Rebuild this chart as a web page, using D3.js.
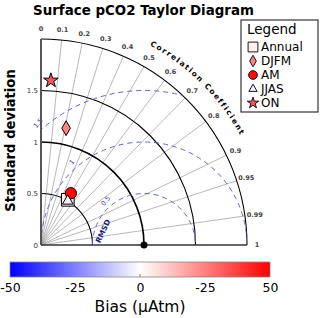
<!DOCTYPE html>
<html>
<head>
<meta charset="utf-8">
<script src="https://cdn.jsdelivr.net/npm/d3@7"></script>
<style>
body{margin:0;background:#fff;}
text{font-family:"DejaVu Sans",sans-serif;}
</style>
</head>
<body>
<div id="chart"></div>
<script>
// data
const seasons = ["Annual", "DJFM", "AM", "JJAS", "ON"];
const shapes = ["square", "diamond", "circle", "triangle", "star"];
const stdDev = [0.51, 1.16, 0.58, 0.50, 1.60];
const corr = [0.51, 0.21, 0.50, 0.52, 0.06];
const bias = [3, 24, 48, -3, 33];

const corrTicks = [0, 0.1, 0.2, 0.3, 0.4, 0.5, 0.6, 0.7, 0.8, 0.9, 0.95, 0.99, 1];
const stdTicks = [0, 0.5, 1, 1.5];
const stdArcs = [0.5, 1, 1.5, 2];
const rmsdLevels = [0.5, 1, 1.5];
const biasTicks = [-50, -25, 0, 25, 50];
const biasTickLabels = ["-50", "-25", "0", "-25", "50"];

function main(){
    const width = 320, height = 318;
    const ox = 41, oy = 245;
    const svg = d3.select("#chart").append("svg")
        .attr("width", width)
        .attr("height", height);

    const r = d3.scaleLinear().domain([0, 2]).range([0, 206]);
    const color = d3.scaleLinear().domain([-50, 0, 50]).range(["#0000ff", "#ffffff", "#ff0000"]);
    const symType = {square: d3.symbolSquare, diamond: d3.symbolDiamond, circle: d3.symbolCircle,
                     triangle: d3.symbolTriangle, star: d3.symbolStar};
    const symSize = {square: 160, diamond: 64, circle: 100, triangle: 50, star: 66};

    const g = svg.append("g").attr("transform", `translate(${ox},${oy})`);
    const px = (s, c) => r(s) * c;
    const py = (s, c) => -r(s) * Math.sqrt(1 - c * c);

    // title
    svg.append("text")
        .attr("x", 143.5).attr("y", 14.5)
        .attr("text-anchor", "middle")
        .style("font-weight", "bold").style("font-size", "13.4px")
        .text("Surface pCO2 Taylor Diagram");

    svg.append("text")
        .attr("transform", "translate(15,140.5) rotate(-90)")
        .attr("text-anchor", "middle")
        .style("font-weight", "bold").style("font-size", "13.2px")
        .text("Standard deviation");

    // correlation rays
    g.selectAll(".ray")
        .data(corrTicks.filter(c => c > 0 && c < 1))
        .enter().append("line")
        .attr("x1", 0).attr("y1", 0)
        .attr("x2", c => px(2, c)).attr("y2", c => py(2, c))
        .attr("stroke", "#9a9a9a").attr("stroke-width", 0.7);

    // std dev arcs
    g.selectAll(".arc")
        .data(stdArcs)
        .enter().append("path")
        .attr("d", s => {
            const p = d3.path();
            p.moveTo(0, -r(s));
            p.arc(0, 0, r(s), -Math.PI / 2, 0, false);
            return p.toString();
        })
        .attr("fill", "none")
        .attr("stroke", "#000")
        .attr("stroke-width", s => s == 1 ? 1.6 : 1.1);

    // rmsd circles clipped to the quarter
    svg.append("clipPath").attr("id", "quad")
        .append("path")
        .attr("d", () => {
            const p = d3.path();
            p.moveTo(0, 0);
            p.lineTo(0, -r(2));
            p.arc(0, 0, r(2), -Math.PI / 2, 0, false);
            p.closePath();
            return p.toString();
        });
    g.append("g").attr("clip-path", "url(#quad)")
        .selectAll("circle")
        .data(rmsdLevels)
        .enter().append("circle")
        .attr("cx", r(1)).attr("cy", 0)
        .attr("r", d => r(d))
        .attr("fill", "none")
        .attr("stroke", "#6464cc")
        .attr("stroke-width", 1)
        .attr("stroke-dasharray", "5,4");

    const la = 131 * Math.PI / 180;
    g.selectAll(".rmsdlab")
        .data(rmsdLevels)
        .enter().append("text")
        .attr("transform", d => {
            const dd = r(d) + 7;
            return `translate(${r(1) + dd * Math.cos(la)},${-dd * Math.sin(la)}) rotate(-50)`;
        })
        .attr("text-anchor", "middle")
        .attr("dy", "0.35em")
        .attr("fill", "#3a3aa8")
        .style("font-size", "6.5px")
        .text(d => d);

    g.append("text")
        .attr("transform", `translate(${103 - ox},${231 - oy}) rotate(-65)`)
        .attr("text-anchor", "middle")
        .attr("dy", "0.35em")
        .attr("fill", "#1c1c88")
        .style("font-weight", "bold").style("font-size", "7.5px")
        .text("RMSD");

    // axes lines
    g.append("line").attr("x1", 0).attr("y1", 0).attr("x2", 0).attr("y2", -r(2))
        .attr("stroke", "#555").attr("stroke-width", 2);
    g.append("line").attr("x1", 0).attr("y1", 0).attr("x2", r(2)).attr("y2", 0)
        .attr("stroke", "#333").attr("stroke-width", 1.5);

    // std dev ticks
    const yScale = d3.scaleLinear().domain([0, 2]).range([0, -206]);
    const yAxis = g.append("g")
        .call(d3.axisLeft(yScale).tickValues(stdTicks).tickSize(0).tickPadding(3)
              .tickFormat(d => d));
    yAxis.select(".domain").remove();
    yAxis.selectAll("text")
        .attr("fill", "#333")
        .style("font-size", "7px")
        .style("font-family", "DejaVu Sans");

    // correlation labels
    g.selectAll(".clab")
        .data(corrTicks)
        .enter().append("text")
        .attr("x", c => 216 * c)
        .attr("y", c => -216 * Math.sqrt(1 - c * c))
        .attr("text-anchor", "middle")
        .attr("dy", "0.35em")
        .attr("fill", "#444")
        .style("font-weight", "bold").style("font-size", "6.5px")
        .text(c => c);

    const cp = d3.path();
    const R = 227.5;
    cp.moveTo(R * Math.cos(75 * Math.PI / 180), -R * Math.sin(75 * Math.PI / 180));
    cp.arc(0, 0, R, -75 * Math.PI / 180, -15 * Math.PI / 180, false);
    g.append("path").attr("id", "ccpath").attr("d", cp.toString()).attr("fill", "none");
    g.append("text")
        .style("font-weight", "bold").style("font-size", "7.5px")
        .style("letter-spacing", "1.5px")
        .append("textPath")
        .attr("href", "#ccpath")
        .attr("startOffset", "50%")
        .attr("text-anchor", "middle")
        .text("Correlation Coefficient");

    // reference point
    g.append("circle").attr("cx", r(1)).attr("cy", 0).attr("r", 3.5).attr("fill", "#000");

    // markers
    const idx = d3.range(seasons.length);
    g.selectAll(".mark")
        .data(idx)
        .enter().append("path")
        .attr("transform", i => `translate(${px(stdDev[i], corr[i])},${py(stdDev[i], corr[i])})`)
        .attr("d", i => d3.symbol().type(symType[shapes[i]]).size(symSize[shapes[i]])())
        .attr("fill", i => color(bias[i]))
        .attr("stroke", "#000")
        .attr("stroke-width", 1);

    // legend
    const lg = svg.append("g");
    lg.append("rect").attr("x", 241).attr("y", 20).attr("width", 77).attr("height", 92)
        .attr("fill", "#fff").attr("stroke", "#222").attr("stroke-width", 1.1);
    lg.append("text").attr("x", 247).attr("y", 33.5)
        .style("font-size", "13.5px").text("Legend");
    const item = lg.selectAll(".item").data(idx).enter().append("g")
        .attr("transform", i => `translate(253,${47 + 14 * i})`);
    item.append("path")
        .attr("d", i => d3.symbol().type(symType[shapes[i]]).size(symSize[shapes[i]] * 0.6)())
        .attr("fill", i => color(bias[i]))
        .attr("stroke", "#000").attr("stroke-width", 0.9);
    item.append("text").attr("x", 8).attr("dy", "0.36em")
        .style("font-size", "12px")
        .text(i => seasons[i]);

    // colour bar
    const bx = d3.scaleLinear().domain([-50, 50]).range([10, 270]);
    const grad = svg.append("defs").append("linearGradient").attr("id", "biasgrad");
    grad.selectAll("stop").data([-50, 0, 50]).enter().append("stop")
        .attr("offset", d => (d + 50) + "%")
        .attr("stop-color", d => color(d));
    svg.append("rect").attr("x", bx(-50)).attr("y", 262)
        .attr("width", bx(50) - bx(-50)).attr("height", 15)
        .attr("fill", "url(#biasgrad)")
        .attr("stroke", "#888").attr("stroke-width", 0.8);
    svg.append("line").attr("x1", bx(0)).attr("x2", bx(0)).attr("y1", 274).attr("y2", 277)
        .attr("stroke", "#777").attr("stroke-width", 1);
    const bAxis = svg.append("g").attr("transform", "translate(0,281)")
        .call(d3.axisBottom(bx).tickValues(biasTicks).tickSize(0).tickPadding(2)
              .tickFormat((d, i) => biasTickLabels[i]));
    bAxis.select(".domain").remove();
    bAxis.selectAll("text")
        .attr("fill", "#000")
        .style("font-size", "12.5px")
        .style("font-family", "DejaVu Sans");
    svg.append("text").attr("x", 140).attr("y", 312)
        .attr("text-anchor", "middle")
        .style("font-size", "15.5px")
        .text("Bias (µAtm)");
}

main();
</script>
</body>
</html>
